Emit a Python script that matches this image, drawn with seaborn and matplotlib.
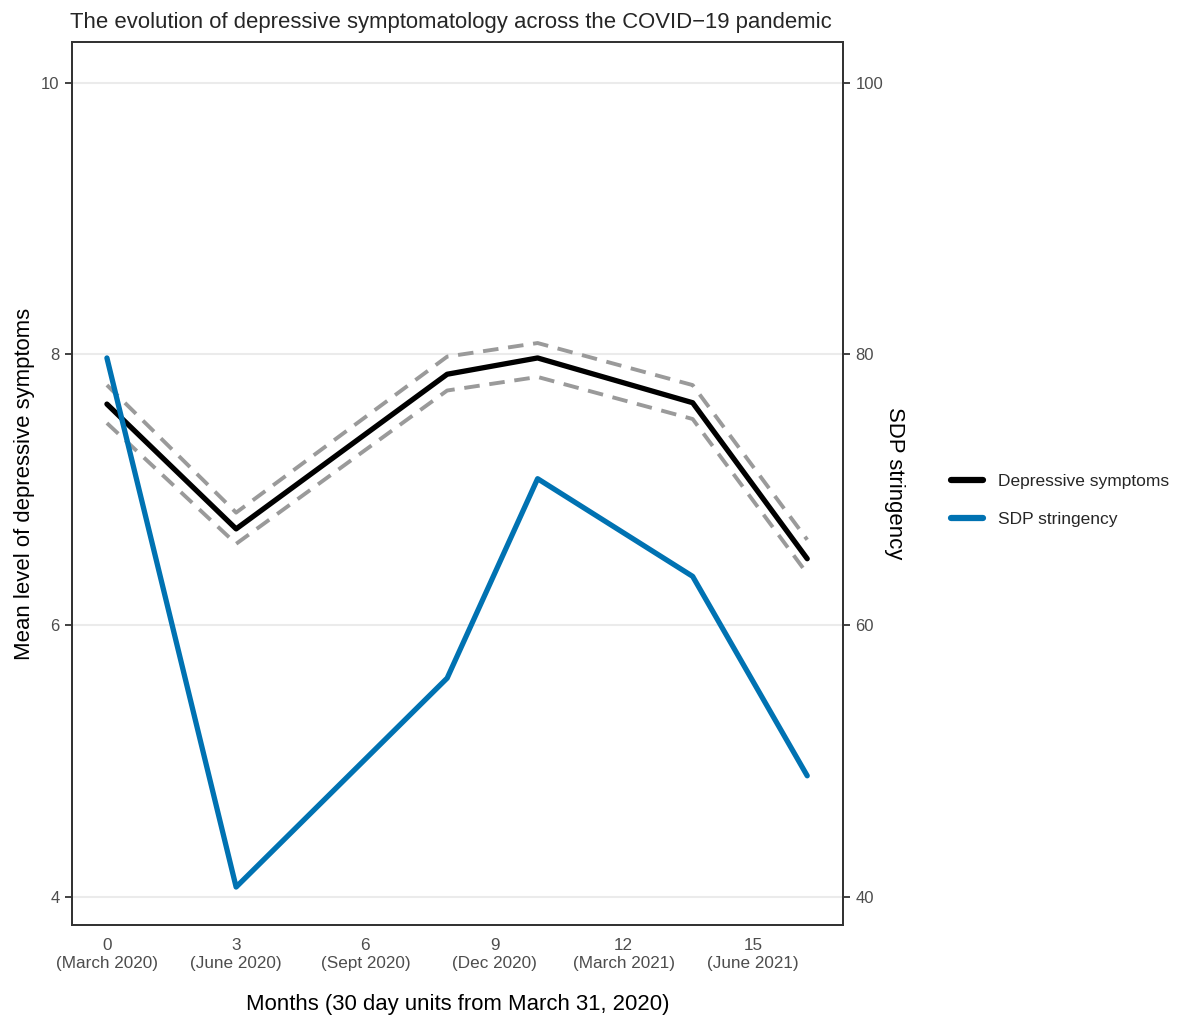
import matplotlib
matplotlib.use("Agg")
import matplotlib.pyplot as plt
import seaborn as sns
import pandas as pd
from matplotlib.lines import Line2D

months = [0, 3, 7.9, 10, 13.6, 16.26]
dep_mean = [7.63, 6.71, 7.85, 7.97, 7.64, 6.49]
dep_upper = [7.77, 6.83, 7.98, 8.08, 7.77, 6.63]
dep_lower = [7.49, 6.60, 7.73, 7.83, 7.52, 6.38]
sdp = [79.7, 40.7, 56.1, 70.8, 63.6, 48.9]

xticks = [0, 3, 6, 9, 12, 15]
xtick_labels = ["0\n(March 2020)", "3\n(June 2020)", "6\n(Sept 2020)", "9\n(Dec 2020)",
                "12\n(March 2021)", "15\n(June 2021)"]
left_ticks = [4, 6, 8, 10]
right_ticks = [40, 60, 80, 100]

sns.set_theme(style="white")
plt.rcParams['font.family'] = ['Liberation Sans', 'DejaVu Sans']

df = pd.DataFrame({"month": months, "mean": dep_mean, "upper": dep_upper,
                   "lower": dep_lower, "sdp": sdp})

fig = plt.figure(figsize=(11.77, 10.21), dpi=100)
ax = fig.add_axes([0.0612, 0.094, 0.655, 0.865])
ax2 = ax.twinx()

ylo, yhi = 3.79, 10.30
ax.set_ylim(ylo, yhi)
ax2.set_ylim(ylo * 10, yhi * 10)
ax.set_xlim(-0.81, 17.09)

for t in left_ticks:
    ax.axhline(t, color="#ebebeb", lw=1.5, zorder=0)

gray = "#9a9a9a"
sns.lineplot(data=df, x="month", y="upper", ax=ax, color=gray, lw=2.8,
             linestyle=(0, (4, 2.5)), zorder=2)
sns.lineplot(data=df, x="month", y="lower", ax=ax, color=gray, lw=2.8,
             linestyle=(0, (4, 2.5)), zorder=2)
sns.lineplot(data=df, x="month", y="mean", ax=ax, color="black", lw=3.8, zorder=3)
sns.lineplot(data=df, x="month", y="sdp", ax=ax2, color="#0072B2", lw=3.8, zorder=3)

ax.set_xticks(xticks)
ax.set_xticklabels(xtick_labels, fontsize=12.3, color="#4d4d4d", linespacing=1.25)
ax.set_yticks(left_ticks)
ax.set_yticklabels([str(t) for t in left_ticks], fontsize=12, color="#4d4d4d")
ax2.set_yticks(right_ticks)
ax2.set_yticklabels([str(t) for t in right_ticks], fontsize=12, color="#4d4d4d")

for a in (ax, ax2):
    a.tick_params(axis="both", length=5, width=1.3, color="#333333", direction="out", pad=4)
    for s in a.spines.values():
        s.set_color("#333333")
        s.set_linewidth(1.3)
        s.set_visible(True)

ax.set_xlabel("Months (30 day units from March 31, 2020)", fontsize=15.9, labelpad=17, color="black")
ax.set_ylabel("Mean level of depressive symptoms", fontsize=15.9, labelpad=4, color="black")
ax2.set_ylabel("SDP stringency", fontsize=15.9, rotation=-90, labelpad=16, color="black")
ax.set_title("The evolution of depressive symptomatology across the COVID\u221219 pandemic",
             fontsize=15.9, loc="left", x=-0.002, pad=10)

handles = [Line2D([], [], color="black", lw=4.5), Line2D([], [], color="#0072B2", lw=4.5)]
fig.legend(handles, ["Depressive symptoms", "SDP stringency"], loc="center left",
           bbox_to_anchor=(0.808, 0.510), frameon=False, fontsize=12.5,
           handlelength=1.85, labelspacing=1.3, handletextpad=0.85, borderaxespad=0,
           borderpad=0)

fig.savefig("out.png", dpi=100)
